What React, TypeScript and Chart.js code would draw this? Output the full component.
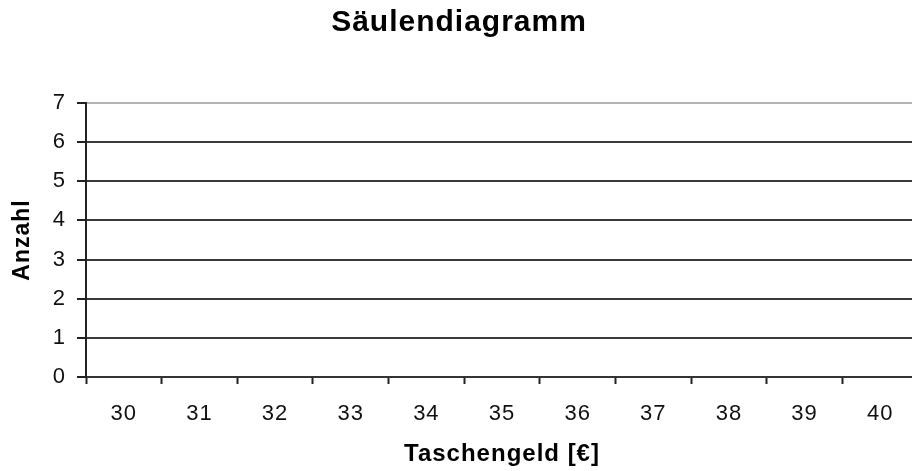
import React, { useEffect, useRef } from "react";
import { Chart, registerables } from "chart.js";

Chart.register(...registerables);

const categories = ["30", "31", "32", "33", "34", "35", "36", "37", "38", "39", "40"];
const counts = [0, 0, 0, 0, 0, 0, 0, 0, 0, 0, 0];
const yTickValues = [0, 1, 2, 3, 4, 5, 6, 7];
const chartTitle = "Säulendiagramm";
const xAxisTitle = "Taschengeld [€]";
const yAxisTitle = "Anzahl";

const FONT = "'Liberation Sans', Arial, Helvetica, sans-serif";

const letterSpacingPlugin = {
  id: "letterSpacing",
  beforeDraw(chart: any) {
    chart.ctx.letterSpacing = "1px";
  },
};

export default function App() {
  const canvasRef = useRef<HTMLCanvasElement | null>(null);

  useEffect(() => {
    const canvas = canvasRef.current;
    if (!canvas) return;
    const chart = new Chart(canvas, {
      type: "bar",
      data: {
        labels: categories,
        datasets: [
          {
            label: yAxisTitle,
            data: counts,
            backgroundColor: "#9999ff",
            borderWidth: 0,
          },
        ],
      },
      plugins: [letterSpacingPlugin],
      options: {
        animation: false,
        responsive: true,
        maintainAspectRatio: false,
        layout: { padding: 0 },
        plugins: {
          legend: { display: false },
          tooltip: { enabled: false },
          title: {
            display: true,
            text: chartTitle,
            color: "#000",
            font: { family: FONT, size: 30, weight: "bold" },
            padding: { top: 5, bottom: 62 },
          },
        },
        scales: {
          x: {
            type: "category",
            offset: true,
            grid: {
              display: true,
              offset: true,
              drawOnChartArea: false,
              drawTicks: true,
              tickLength: 7,
              tickColor: "#222",
              tickWidth: 2,
            },
            border: { display: true, color: "#333", width: 2 },
            ticks: {
              color: "#111",
              font: { family: FONT, size: 22 },
              padding: 17,
              maxRotation: 0,
              autoSkip: false,
            },
            title: {
              display: true,
              text: xAxisTitle,
              color: "#000",
              font: { family: FONT, size: 24, weight: "bold" },
              padding: { top: 0, bottom: 2 },
            },
            afterFit: (s: any) => {
              s.height = 94;
            },
          },
          y: {
            min: 0,
            max: 7,
            afterBuildTicks: (s: any) => {
              s.ticks = yTickValues.map((v) => ({ value: v }));
            },
            ticks: {
              color: "#111",
              font: { family: FONT, size: 22 },
              padding: 11,
            },
            grid: {
              color: (ctx: any) => (ctx.tick && ctx.tick.value === 7 ? "#b4b4b4" : "#3a3a3a"),
              lineWidth: 2,
              tickLength: 9,
              tickColor: "#222",
              tickWidth: 2,
            },
            border: { display: true, color: "#222", width: 2 },
            title: {
              display: true,
              text: yAxisTitle,
              color: "#000",
              font: { family: FONT, size: 23, weight: "bold" },
              padding: { top: 9, bottom: 0 },
            },
            afterFit: (s: any) => {
              s.width = 86;
            },
          },
        },
      },
    });
    return () => chart.destroy();
  }, []);

  return (
    <div
      style={{
        position: "fixed",
        left: 0,
        top: 0,
        width: 912,
        height: 471,
        overflow: "hidden",
        background: "#fff",
      }}
    >
      <div style={{ position: "relative", width: 918, height: 471 }}>
        <canvas ref={canvasRef} />
      </div>
    </div>
  );
}
